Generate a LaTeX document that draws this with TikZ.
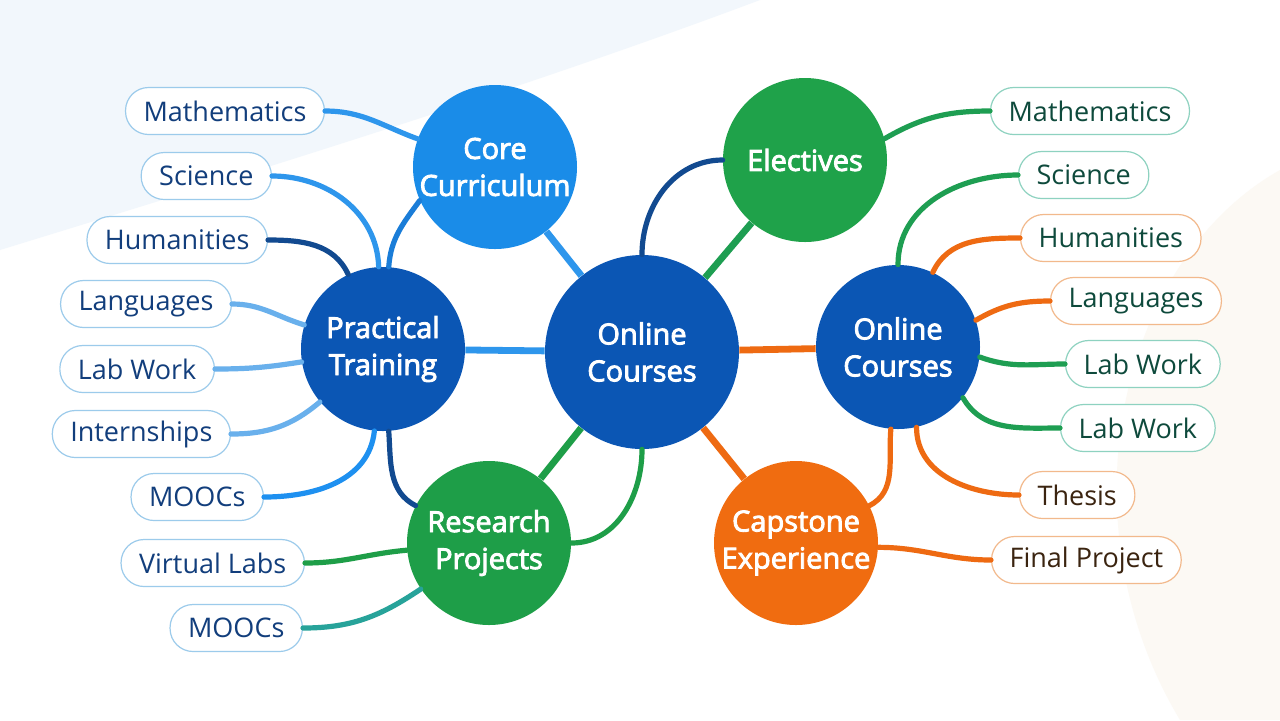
\documentclass[tikz,border=0pt]{standalone}
\usepackage{fontspec}
\setmainfont{Open Sans}
\newfontfamily\hubfont[UprightFeatures={FakeBold=3}]{Open Sans}
\usepackage{tikz}
\usetikzlibrary{positioning}

\definecolor{bgblue}{HTML}{F2F7FC}
\definecolor{bgwarm}{HTML}{FCF9F4}
\definecolor{corefill}{HTML}{1A8CE8}
\definecolor{hubblue}{HTML}{0B56B4}
\definecolor{hubgreen}{HTML}{1FA24A}
\definecolor{huborange}{HTML}{F06C10}
\definecolor{cblue}{HTML}{1A7DD8}
\definecolor{lblue}{HTML}{2E96EC}
\definecolor{pblue}{HTML}{69B0EC}
\definecolor{bblue}{HTML}{1E90F0}
\definecolor{dblue}{HTML}{124A90}
\definecolor{egreen}{HTML}{1E9E52}
\definecolor{rgreen}{HTML}{1E9E48}
\definecolor{tealc}{HTML}{27A39A}
\definecolor{orng}{HTML}{EE6A12}
\definecolor{bdblue}{HTML}{9CCBEB}
\definecolor{bdteal}{HTML}{8ED2C0}
\definecolor{bdorng}{HTML}{F2B98C}
\definecolor{txnavy}{HTML}{123E7C}
\definecolor{txgreen}{HTML}{0E4A3C}
\definecolor{txbrown}{HTML}{3B2410}

\begin{document}
\begin{tikzpicture}[x=0.5pt, y=-0.5pt,
  hub/.style={circle, minimum size=82pt, inner sep=0pt, text=white, align=center,
    font=\hubfont\fontsize{14.5}{18.5}\selectfont},
  leaf/.style={draw=#1, fill=white, rounded corners=11.5pt, minimum height=23.5pt,
    inner xsep=9pt, line width=0.6pt, font=\fontsize{13.5}{16}\selectfont},
  link/.style={draw=#1, line width=2.6pt, line cap=round},
  spoke/.style={draw=#1, line width=3.4pt}]

% background
\useasboundingbox (0,0) rectangle (1280,720);
\fill[white] (0,0) rectangle (1280,720);
\fill[bgblue] (0,0) -- (760,0) .. controls (520,90) and (260,170) .. (0,250) -- cycle;
\fill[bgwarm] (1280,170) .. controls (1120,260) and (1060,520) .. (1180,720) -- (1280,720) -- cycle;

% hubs
\node[hub, fill=corefill] (core) at (495,167) {Core\\Curriculum};
\node[hub, fill=hubgreen] (elec) at (805,160) {Electives};
\node[hub, fill=hubblue] (prac) at (383,349) {Practical\\Training};
\node[hub, fill=hubblue, minimum size=97pt] (ctr) at (642,352) {Online\\Courses};
\node[hub, fill=hubblue] (onl) at (898,347) {Online\\Courses};
\node[hub, fill=rgreen] (res) at (489,543) {Research\\Projects};
\node[hub, fill=huborange] (cap) at (796,543) {Capstone\\Experience};

% left leaves
\node[leaf=bdblue, text=txnavy, anchor=east] (lmath) at (325,111) {Mathematics};
\node[leaf=bdblue, text=txnavy, anchor=east] (lsci) at (272,176) {Science};
\node[leaf=bdblue, text=txnavy, anchor=east] (lhum) at (268,240) {Humanities};
\node[leaf=bdblue, text=txnavy, anchor=east] (llang) at (232,304) {Languages};
\node[leaf=bdblue, text=txnavy, anchor=east] (llab) at (215,369) {Lab Work};
\node[leaf=bdblue, text=txnavy, anchor=east] (lint) at (231,434) {Internships};
\node[leaf=bdblue, text=txnavy, anchor=east] (lmooc) at (264,497) {MOOCs};
\node[leaf=bdblue, text=txnavy, anchor=east] (lvirt) at (305,563) {Virtual Labs};
\node[leaf=bdblue, text=txnavy, anchor=east] (lmoocb) at (303,628) {MOOCs};

% right leaves
\node[leaf=bdteal, text=txgreen, anchor=west] (rmath) at (990,111) {Mathematics};
\node[leaf=bdteal, text=txgreen, anchor=west] (rsci) at (1018,175) {Science};
\node[leaf=bdorng, text=txgreen, anchor=west] (rhum) at (1020,238) {Humanities};
\node[leaf=bdorng, text=txgreen, anchor=west] (rlang) at (1050,301) {Languages};
\node[leaf=bdteal, text=txgreen, anchor=west] (rlab) at (1065,364) {Lab Work};
\node[leaf=bdteal, text=txgreen, anchor=west] (rlabb) at (1060,428) {Lab Work};
\node[leaf=bdorng, text=txbrown, anchor=west] (rthes) at (1019,495) {Thesis};
\node[leaf=bdorng, text=txbrown, anchor=west] (rfin) at (991,560) {Final Project};

% spokes to the centre
\draw[spoke=lblue] (core) -- (ctr);
\draw[spoke=egreen] (elec) -- (ctr);
\draw[spoke=lblue] (prac) -- (ctr);
\draw[spoke=orng] (onl) -- (ctr);
\draw[spoke=rgreen] (res) -- (ctr);
\draw[spoke=orng] (cap) -- (ctr);
\draw[link=dblue] (ctr.90) to[out=90,in=180] (elec.180);
\draw[link=rgreen] (ctr.270) to[out=270,in=0] (res.0);

% left side
\draw[link=cblue] (core.204) to[out=234,in=86] (prac.86);
\draw[link=dblue] (prac.274) to[out=274,in=153] (res.153);
\draw[link=lblue] (lmath.east) to[out=0,in=160] (core.160);
\draw[link=lblue] (lsci.east) to[out=0,in=92] (prac.93);
\draw[link=dblue] (lhum.east) to[out=0,in=115] (prac.115);
\draw[link=pblue] (llang.east) to[out=0,in=163] (prac.163);
\draw[link=pblue] (llab.east) to[out=0,in=189] (prac.189);
\draw[link=pblue] (lint.east) to[out=0,in=220] (prac.220);
\draw[link=bblue] (lmooc.east) to[out=0,in=264] (prac.264);
\draw[link=rgreen] (lvirt.east) to[out=0,in=185] (res.185);
\draw[link=tealc] (lmoocb.east) to[out=0,in=214] (res.214);

% right side
\draw[link=egreen] (elec.15) to[out=30,in=180] (rmath.west);
\draw[link=egreen] (onl.90) to[out=90,in=180] (rsci.west);
\draw[link=orng] (onl.65) to[out=65,in=180] (rhum.west);
\draw[link=orng] (onl.19) to[out=30,in=180] (rlang.west);
\draw[link=egreen] (onl.353) to[out=340,in=180] (rlab.west);
\draw[link=egreen] (onl.322) to[out=300,in=180] (rlabb.west);
\draw[link=orng] (onl.283) to[out=270,in=180] (rthes.west);
\draw[link=orng] (onl.265) to[out=265,in=27] (cap.27);
\draw[link=orng] (cap.357) to[out=0,in=180] (rfin.west);
\end{tikzpicture}
\end{document}
